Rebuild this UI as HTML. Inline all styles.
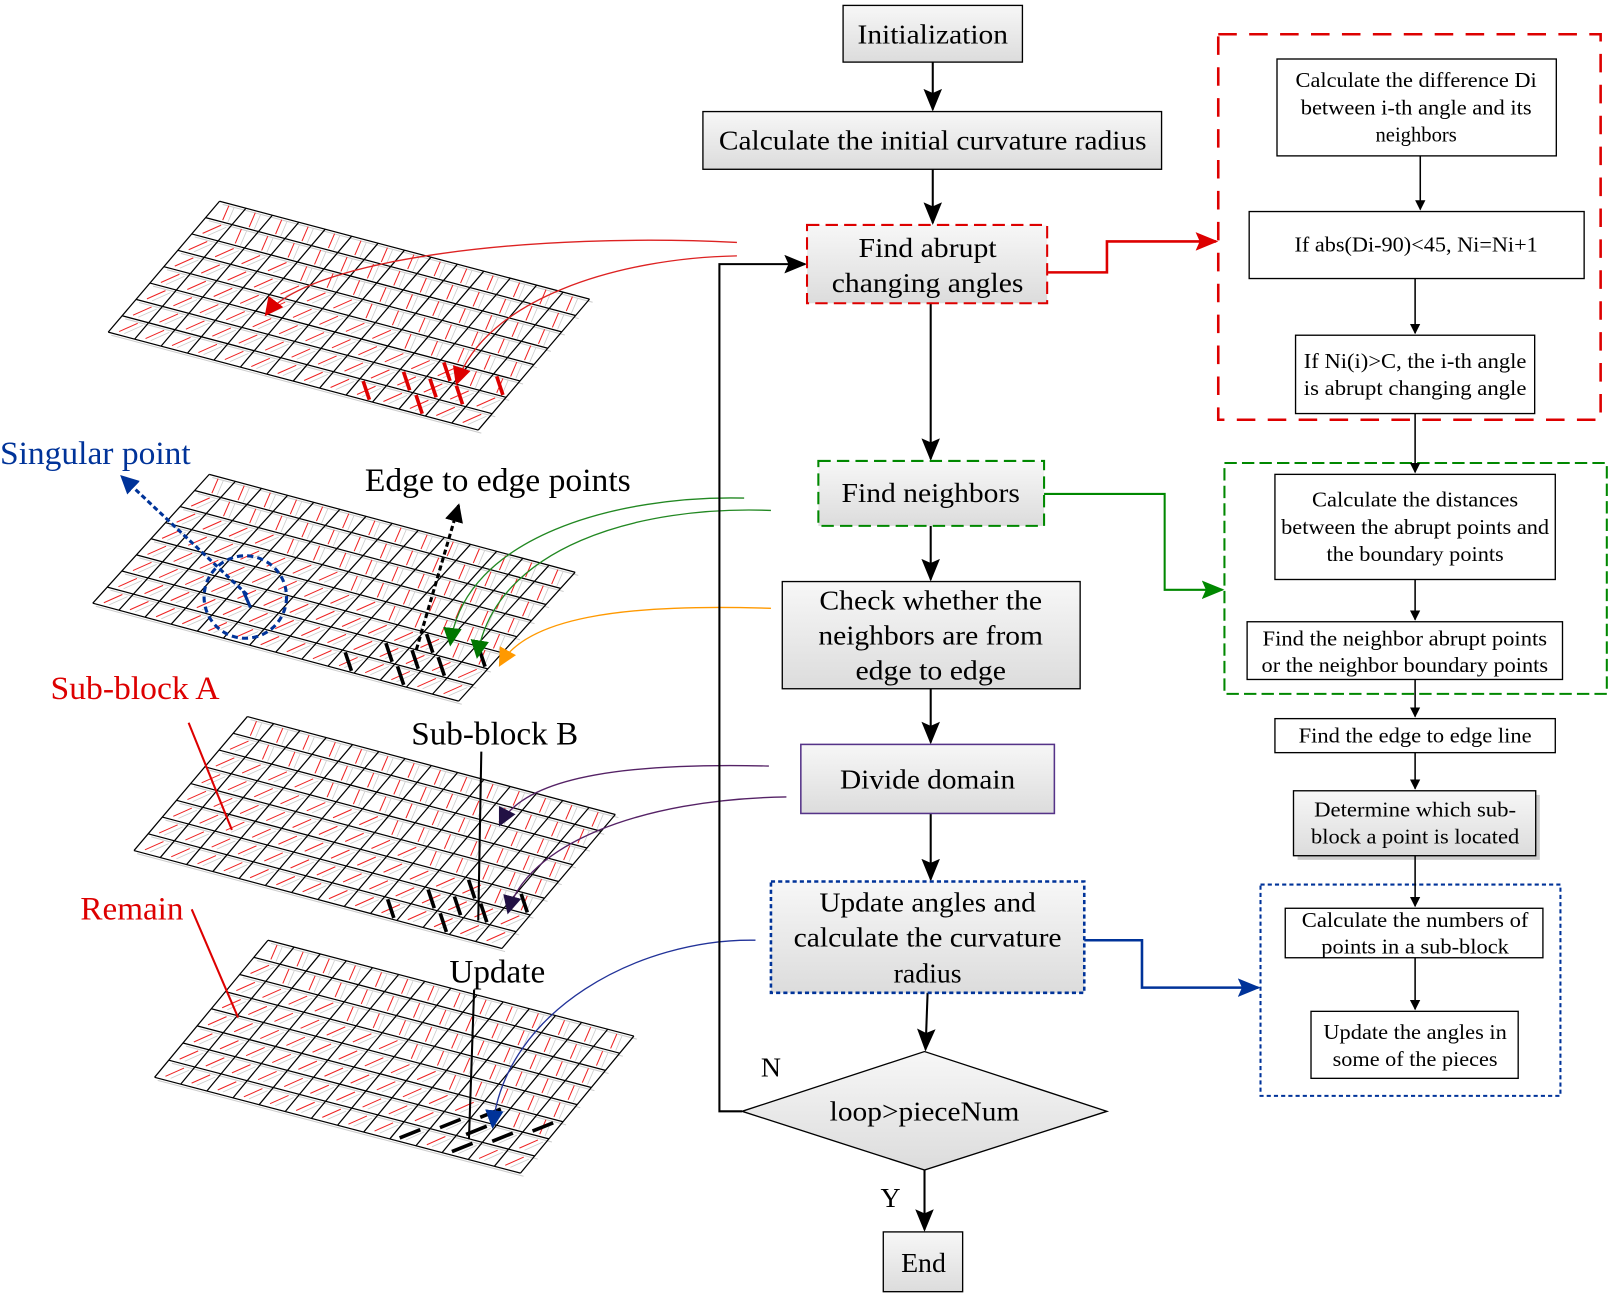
<!DOCTYPE html>
<html><head><meta charset="utf-8"><style>
html,body{margin:0;padding:0;background:#fff;}
svg{display:block;}
text{font-family:"Liberation Serif",serif;}
</style></head><body>
<svg id="s" width="1613" height="1294" viewBox="0 0 1565 1255" xmlns="http://www.w3.org/2000/svg">
<defs>
<linearGradient id="g" x1="0" y1="0" x2="0" y2="1"><stop offset="0" stop-color="#f7f7f7"/><stop offset="1" stop-color="#dcdcdc"/></linearGradient>
<marker id="ak" markerWidth="10" markerHeight="10" refX="9" refY="5" orient="auto" markerUnits="userSpaceOnUse"><path d="M0,0L10,5L0,10Z" fill="#000"/></marker>
<marker id="ab" markerWidth="22" markerHeight="18" refX="20" refY="9" orient="auto" markerUnits="userSpaceOnUse"><path d="M0,0L22,9L0,18L4,9Z" fill="#000"/></marker>
<marker id="ar" markerWidth="22" markerHeight="18" refX="20" refY="9" orient="auto" markerUnits="userSpaceOnUse"><path d="M0,0L22,9L0,18L4,9Z" fill="#d00"/></marker>
<marker id="ag" markerWidth="22" markerHeight="18" refX="20" refY="9" orient="auto" markerUnits="userSpaceOnUse"><path d="M0,0L22,9L0,18L4,9Z" fill="#080"/></marker>
<marker id="au" markerWidth="22" markerHeight="18" refX="20" refY="9" orient="auto" markerUnits="userSpaceOnUse"><path d="M0,0L22,9L0,18L4,9Z" fill="#039"/></marker>
<marker id="mr" markerWidth="18" markerHeight="22" refX="16" refY="9" orient="auto" markerUnits="userSpaceOnUse"><path d="M0,0L18,9L0,18Z" fill="#d00"/></marker>
<marker id="mg" markerWidth="18" markerHeight="22" refX="16" refY="9" orient="auto" markerUnits="userSpaceOnUse"><path d="M0,0L18,9L0,18Z" fill="#070"/></marker>
<marker id="mo" markerWidth="18" markerHeight="22" refX="16" refY="9" orient="auto" markerUnits="userSpaceOnUse"><path d="M0,0L18,9L0,18Z" fill="#f90"/></marker>
<marker id="mp" markerWidth="18" markerHeight="22" refX="16" refY="9" orient="auto" markerUnits="userSpaceOnUse"><path d="M0,0L18,9L0,18Z" fill="#214"/></marker>
<marker id="mu" markerWidth="18" markerHeight="22" refX="16" refY="9" orient="auto" markerUnits="userSpaceOnUse"><path d="M0,0L18,9L0,18Z" fill="#039"/></marker>
<marker id="mk" markerWidth="18" markerHeight="22" refX="16" refY="9" orient="auto" markerUnits="userSpaceOnUse"><path d="M0,0L18,9L0,18Z" fill="#000"/></marker>
<marker id="msu" markerWidth="18" markerHeight="22" refX="16" refY="9" orient="auto" markerUnits="userSpaceOnUse"><path d="M0,0L18,9L0,18Z" fill="#039"/></marker>
</defs>
<g id="grids"></g>

<g fill="none" stroke-width="1.3">
<path d="M715,235 C520,225 300,250 258,305" stroke="#d22" marker-end="url(#mr)"/>
<path d="M715,248 C600,250 470,290 443,372" stroke="#d22" marker-end="url(#mr)"/>
<path d="M722,483 C600,480 450,520 437,625" stroke="#282" marker-end="url(#mg)"/>
<path d="M748,495 C620,490 480,530 463,637" stroke="#282" marker-end="url(#mg)"/>
<path d="M748,590 C600,585 510,600 485,645" stroke="#f90" marker-end="url(#mo)"/>
<path d="M746,743 C620,740 510,750 485,800" stroke="#526" marker-end="url(#mp)"/>
<path d="M763,773 C620,775 510,820 493,885" stroke="#526" marker-end="url(#mp)"/>
<path d="M733,912 C620,910 490,980 478,1093" stroke="#239" marker-end="url(#mu)"/>
</g>
<path d="M240,577 L118,462" stroke="#039" stroke-width="3" stroke-dasharray="5,3" fill="none" marker-end="url(#msu)"/>
<circle cx="238" cy="579" r="40" fill="none" stroke="#039" stroke-width="3" stroke-dasharray="6,4"/>
<line x1="236" y1="573" x2="243" y2="589" stroke="#039" stroke-width="3"/>
<path d="M404,630 L445,490" stroke="#000" stroke-width="3" stroke-dasharray="5,3" fill="none" marker-end="url(#mk)"/>
<line x1="183" y1="701" x2="225" y2="805" stroke="#d00" stroke-width="2"/>
<line x1="467" y1="729" x2="464" y2="893" stroke="#000" stroke-width="2"/>
<line x1="186" y1="882" x2="231" y2="987" stroke="#d00" stroke-width="2"/>
<line x1="460" y1="960" x2="455" y2="1105" stroke="#000" stroke-width="2"/>

<g font-size="32">
<text x="0" y="450" fill="#039" textLength="185" lengthAdjust="spacingAndGlyphs">Singular point</text>
<text x="354" y="476" fill="#000" textLength="258" lengthAdjust="spacingAndGlyphs">Edge to edge points</text>
<text x="49" y="678" fill="#d00" textLength="164" lengthAdjust="spacingAndGlyphs">Sub-block A</text>
<text x="399" y="722" fill="#000" textLength="162" lengthAdjust="spacingAndGlyphs">Sub-block B</text>
<text x="78" y="892" fill="#d00" textLength="100" lengthAdjust="spacingAndGlyphs">Remain</text>
<text x="436" y="953" fill="#000" textLength="93" lengthAdjust="spacingAndGlyphs">Update</text>
</g>

<g stroke="#000" stroke-width="2" fill="none">
<line x1="905" y1="60" x2="905" y2="106" marker-end="url(#ab)"/>
<line x1="905" y1="164" x2="905" y2="216" marker-end="url(#ab)"/>
<line x1="903" y1="294" x2="903" y2="445" marker-end="url(#ab)"/>
<line x1="903" y1="510" x2="903" y2="562" marker-end="url(#ab)"/>
<line x1="903" y1="668" x2="903" y2="720" marker-end="url(#ab)"/>
<line x1="903" y1="789" x2="903" y2="853" marker-end="url(#ab)"/>
<line x1="900" y1="963" x2="898" y2="1018" marker-end="url(#ab)"/>
<line x1="897" y1="1135" x2="897" y2="1193" marker-end="url(#ab)"/>
<path d="M720,1078 H698 V256 H781" marker-end="url(#ab)"/>
</g>
<g stroke="#000" stroke-width="1.3">
<rect x="818" y="5" width="174" height="55" fill="url(#g)"/>
<rect x="682" y="108" width="445" height="56" fill="url(#g)"/>
<rect x="759" y="564" width="289" height="104" fill="url(#g)"/>
<rect x="857" y="1195" width="77" height="58" fill="url(#g)"/>
<polygon points="720,1078 897,1020 1074,1078 897,1135" fill="url(#g)"/>
</g>
<rect x="783" y="218" width="233" height="76" fill="url(#g)" stroke="#d00" stroke-width="2" stroke-dasharray="12,6"/>
<rect x="794" y="447" width="219" height="63" fill="url(#g)" stroke="#080" stroke-width="2" stroke-dasharray="12,6"/>
<rect x="777" y="722" width="246" height="67" fill="url(#g)" stroke="#538" stroke-width="1.5"/>
<rect x="748" y="855" width="304" height="108" fill="url(#g)" stroke="#039" stroke-width="2.5" stroke-dasharray="4,3"/>
<g font-size="27" text-anchor="middle" fill="#000">
<text x="905" y="42" textLength="146" lengthAdjust="spacingAndGlyphs">Initialization</text>
<text x="905" y="145" textLength="415" lengthAdjust="spacingAndGlyphs">Calculate the initial curvature radius</text>
<text x="900" y="249" textLength="134" lengthAdjust="spacingAndGlyphs">Find abrupt</text>
<text x="900" y="283" textLength="186" lengthAdjust="spacingAndGlyphs">changing angles</text>
<text x="903" y="487" textLength="173" lengthAdjust="spacingAndGlyphs">Find neighbors</text>
<text x="903" y="591" textLength="216" lengthAdjust="spacingAndGlyphs">Check whether the</text>
<text x="903" y="625" textLength="218" lengthAdjust="spacingAndGlyphs">neighbors are from</text>
<text x="903" y="659" textLength="146" lengthAdjust="spacingAndGlyphs">edge to edge</text>
<text x="900" y="765" textLength="170" lengthAdjust="spacingAndGlyphs">Divide domain</text>
<text x="900" y="884" textLength="210" lengthAdjust="spacingAndGlyphs">Update angles and</text>
<text x="900" y="918" textLength="260" lengthAdjust="spacingAndGlyphs">calculate the curvature</text>
<text x="900" y="953">radius</text>
<text x="897" y="1087" textLength="184" lengthAdjust="spacingAndGlyphs">loop&gt;pieceNum</text>
<text x="896" y="1234">End</text>
<text x="748" y="1044">N</text>
<text x="864" y="1171">Y</text>
</g>

<path d="M1016,264 H1074 V234 H1180" stroke="#d00" stroke-width="2.5" fill="none" marker-end="url(#ar)"/>
<path d="M1013,479 H1130 V572 H1186" stroke="#080" stroke-width="2" fill="none" marker-end="url(#ag)"/>
<path d="M1052,912 H1108 V958 H1221" stroke="#039" stroke-width="2.5" fill="none" marker-end="url(#au)"/>

<rect x="1182" y="33" width="371" height="374" fill="none" stroke="#d00" stroke-width="2.5" stroke-dasharray="18,12"/>
<rect x="1188" y="449" width="371" height="224" fill="none" stroke="#080" stroke-width="2" stroke-dasharray="12,5"/>
<rect x="1223" y="858" width="291" height="205" fill="none" stroke="#039" stroke-width="2" stroke-dasharray="4,3"/>
<g stroke="#000" stroke-width="1.3" fill="#fff">
<rect x="1239" y="57" width="271" height="94"/>
<rect x="1212" y="205" width="325" height="65"/>
<rect x="1257" y="325" width="232" height="76"/>
<rect x="1237" y="460" width="272" height="102"/>
<rect x="1210" y="603" width="306" height="56"/>
<rect x="1237" y="697" width="272" height="33"/>
<rect x="1259" y="771" width="235" height="63" fill="#ccc" stroke="none"/>
<rect x="1255" y="767" width="235" height="63" fill="url(#g)"/>
<rect x="1247" y="881" width="250" height="48"/>
<rect x="1272" y="981" width="201" height="65"/>
</g>
<g stroke="#000" stroke-width="1.5" fill="none">
<line x1="1378" y1="151" x2="1378" y2="203" marker-end="url(#ak)"/>
<line x1="1373" y1="270" x2="1373" y2="323" marker-end="url(#ak)"/>
<line x1="1373" y1="401" x2="1373" y2="458" marker-end="url(#ak)"/>
<line x1="1373" y1="562" x2="1373" y2="601" marker-end="url(#ak)"/>
<line x1="1373" y1="659" x2="1373" y2="695" marker-end="url(#ak)"/>
<line x1="1373" y1="730" x2="1373" y2="765" marker-end="url(#ak)"/>
<line x1="1373" y1="830" x2="1373" y2="879" marker-end="url(#ak)"/>
<line x1="1373" y1="929" x2="1373" y2="979" marker-end="url(#ak)"/>
</g>
<g font-size="20" text-anchor="middle" fill="#000" lengthAdjust="spacingAndGlyphs">
<text x="1374" y="84" textLength="234" lengthAdjust="spacingAndGlyphs">Calculate the difference Di</text>
<text x="1374" y="111" textLength="224" lengthAdjust="spacingAndGlyphs">between i-th angle and its</text>
<text x="1374" y="137">neighbors</text>
<text x="1374" y="244" textLength="236" lengthAdjust="spacingAndGlyphs">If abs(Di-90)&lt;45, Ni=Ni+1</text>
<text x="1373" y="357" textLength="216" lengthAdjust="spacingAndGlyphs">If Ni(i)&gt;C, the i-th angle</text>
<text x="1373" y="383" textLength="216" lengthAdjust="spacingAndGlyphs">is abrupt changing angle</text>
<text x="1373" y="491" textLength="200" lengthAdjust="spacingAndGlyphs">Calculate the distances</text>
<text x="1373" y="518" textLength="260" lengthAdjust="spacingAndGlyphs">between the abrupt points and</text>
<text x="1373" y="544" textLength="172" lengthAdjust="spacingAndGlyphs">the boundary points</text>
<text x="1363" y="626" textLength="276" lengthAdjust="spacingAndGlyphs">Find the neighbor abrupt points</text>
<text x="1363" y="652" textLength="278" lengthAdjust="spacingAndGlyphs">or the neighbor boundary points</text>
<text x="1373" y="720" textLength="226" lengthAdjust="spacingAndGlyphs">Find the edge to edge line</text>
<text x="1373" y="792" textLength="196" lengthAdjust="spacingAndGlyphs">Determine which sub-</text>
<text x="1373" y="818" textLength="202" lengthAdjust="spacingAndGlyphs">block a point is located</text>
<text x="1373" y="899" textLength="220" lengthAdjust="spacingAndGlyphs">Calculate the numbers of</text>
<text x="1373" y="925" textLength="182" lengthAdjust="spacingAndGlyphs">points in a sub-block</text>
<text x="1373" y="1008" textLength="178" lengthAdjust="spacingAndGlyphs">Update the angles in</text>
<text x="1373" y="1034" textLength="160" lengthAdjust="spacingAndGlyphs">some of the pieces</text>
</g>
</svg>
<script>
(function(){
var NS="http://www.w3.org/2000/svg",G=document.getElementById("grids");
function L(x1,y1,x2,y2,c,w){var l=document.createElementNS(NS,"line");l.setAttribute("x1",x1);l.setAttribute("y1",y1);l.setAttribute("x2",x2);l.setAttribute("y2",y2);l.setAttribute("stroke",c);l.setAttribute("stroke-width",w);G.appendChild(l);}
var grids=[[[213,195],[572,290],[455,418],[105,322]],[[203,460],[558,555],[430,683],[90,585]],[[240,695],[597,790],[478,918],[130,825]],[[260,912],[615,1005],[510,1137],[150,1045]]];
var R=8,C=14;
grids.forEach(function(q,gi){
 var A=q[0],B=q[1],Cc=q[2],D=q[3];
 function P(u,v){return [A[0]+(B[0]-A[0])*u+(D[0]-A[0])*v,A[1]+(B[1]-A[1])*u+(D[1]-A[1])*v];}
 for(var i=0;i<=R;i++){var p=P(0,i/R),r=P(1,i/R);L(p[0]+3,p[1]+3,r[0]+3,r[1]+3,"#ccc",1);}
 for(var i=0;i<R;i++)for(var j=0;j<C;j++){
  var c=P((j+.5)/C,(i+.5)/R);var diag=(i/R*1.2+(1-j/C)*0.8)>0.9;
  var dx=diag?9:3,dy=diag?-4:-7;
  L(c[0]-dx,c[1]-dy,c[0]+dx,c[1]+dy,"#e22",1);
  L(c[0]-dx+5,c[1]-dy+2,c[0]+dx+5,c[1]+dy+2,"#ccc",0.8);
 }
 for(var i=0;i<=R;i++){var p=P(0,i/R),r=P(1,i/R);L(p[0],p[1],r[0],r[1],"#000",1.2);}
 for(var j=0;j<=C;j++){var p=P(j/C,0),r=P(j/C,1);L(p[0],p[1],r[0],r[1],"#000",1.2);}
 var col=gi==0?"#d00":"#000";
 var cells=[[7,9],[6,10],[5,11],[6,12],[5,13],[7,11],[6,11]];
 cells.forEach(function(cc){var c=P((cc[1]+.5)/C,(cc[0]+.5)/R);
  if(gi==3)L(c[0]-10,c[1]+4,c[0]+10,c[1]-4,col,3.5);else L(c[0]-3,c[1]-9,c[0]+3,c[1]+9,col,3.5);});
});
})();
</script>
</body></html>
